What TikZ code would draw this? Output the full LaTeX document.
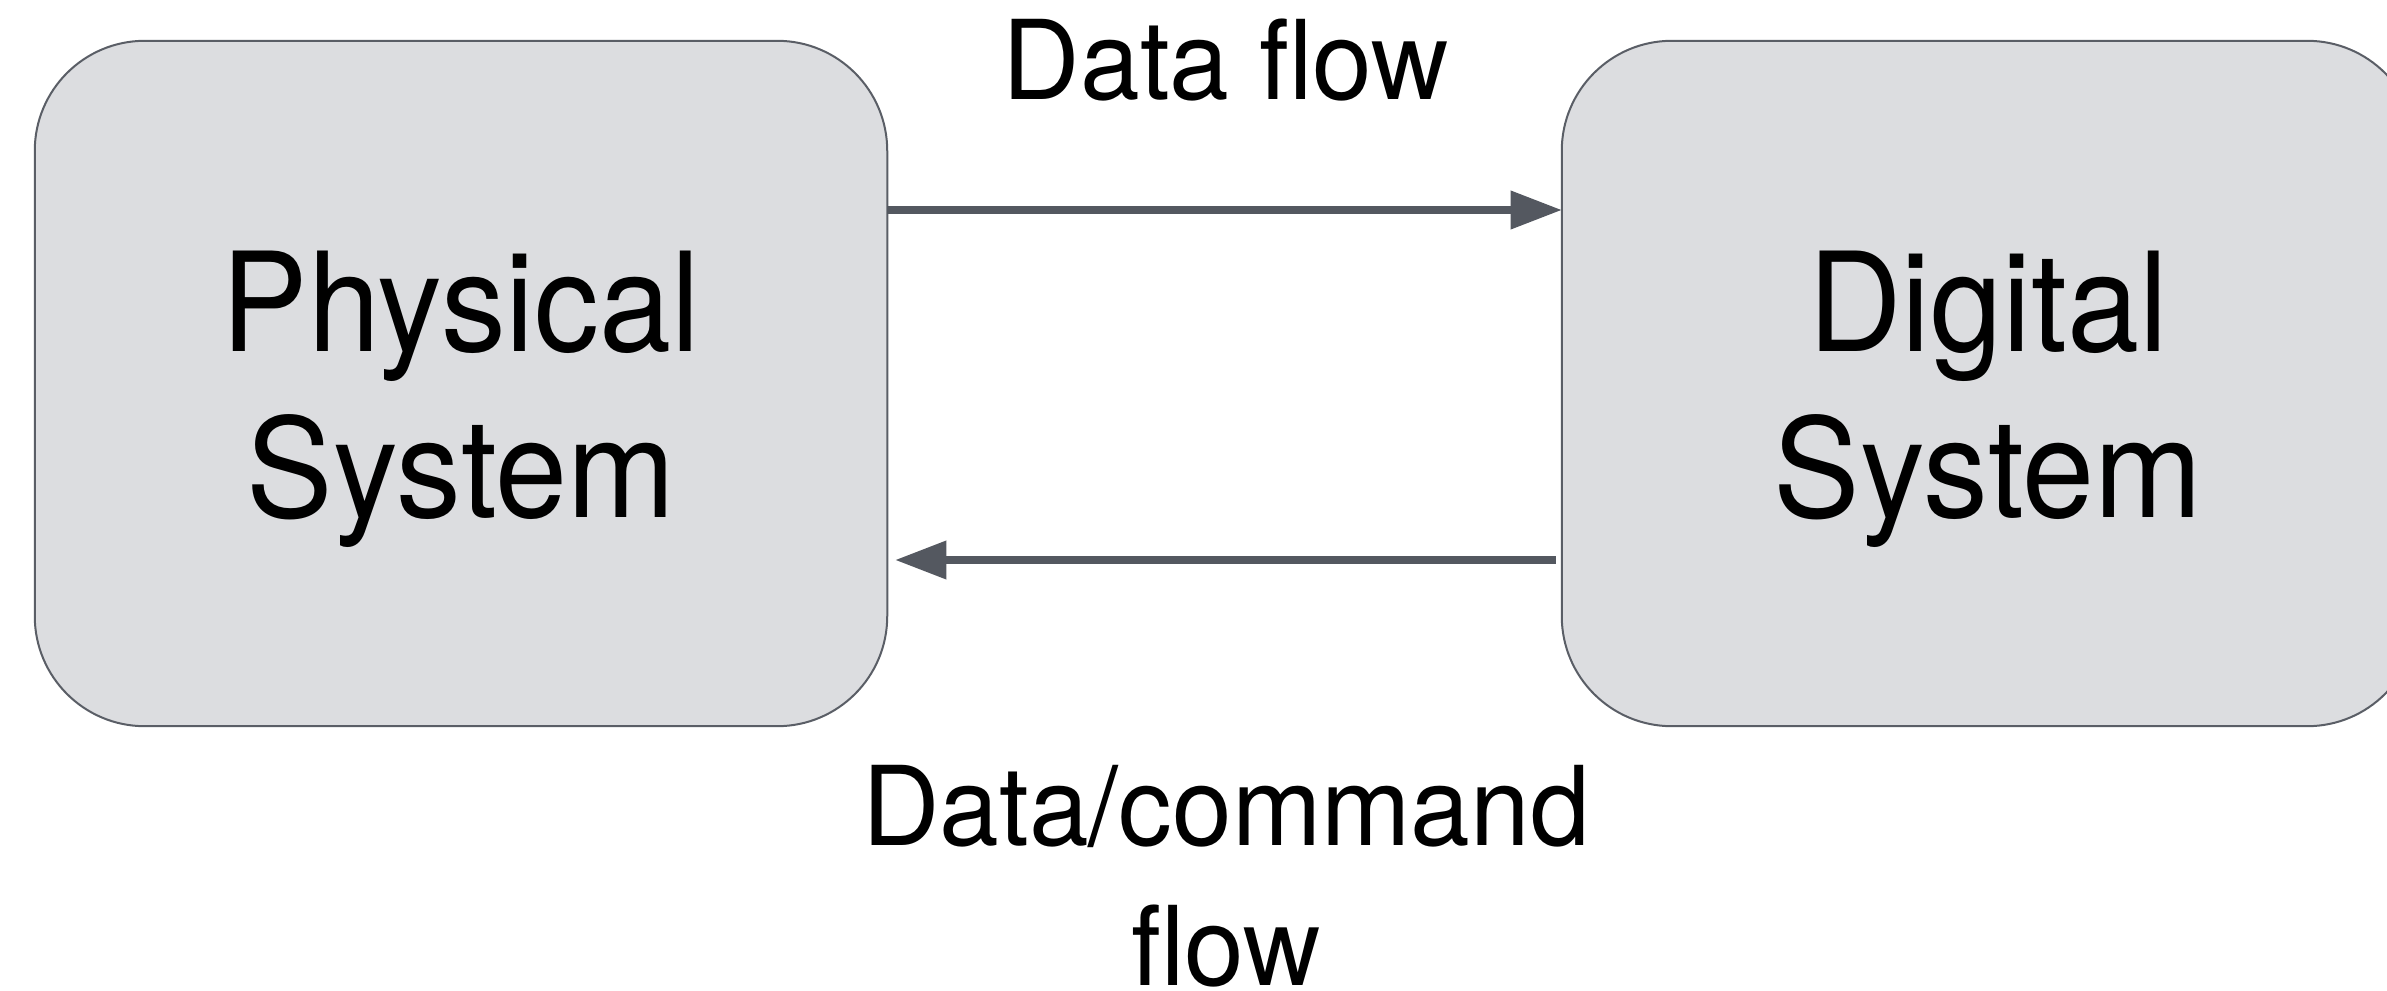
\documentclass[tikz,border=0pt]{standalone}
\usepackage{fontspec}
\setmainfont{TeX Gyre Heros}[FakeStretch=0.94]
\newfontfamily\flowfam{TeX Gyre Heros}[FakeStretch=0.975]
\usetikzlibrary{arrows.meta}

\definecolor{boxfill}{HTML}{DCDDE0}
\definecolor{boxline}{HTML}{5A5E66}
\definecolor{arrowcol}{HTML}{545860}

\newcommand{\boxfont}{\fontsize{39.2}{47.2}\selectfont}
\newcommand{\flowfont}{\flowfam\fontsize{31.3}{39.8}\selectfont}

\tikzset{
  sysbox/.style={draw=boxline, fill=boxfill, line width=0.02cm,
    rounded corners=1.1cm, minimum height=6.85cm, inner sep=0pt, outer sep=0pt},
  lbl/.style={anchor=base, inner sep=0pt, outer sep=0pt, text=black},
  flowarrow/.style={draw=arrowcol, line width=0.07cm,
    -{Triangle[length=0.51cm, width=0.37cm]}}
}

\begin{document}
\begin{tikzpicture}[x=0.01cm, y=-0.01cm]
  \useasboundingbox (0,0) rectangle (2387,991);
  \clip (0,0) rectangle (2387,991);

  % the two systems
  \node[sysbox, minimum width=8.52cm] (phys) at (461,383.5) {};
  \node[sysbox, minimum width=8.55cm] (dig) at (1989.5,383.5) {};

  \node[lbl, font=\boxfont] (physlbl) at (461,517)
    {\begin{tabular}[b]{@{}c@{}}Physical\\System\end{tabular}};
  \node[lbl, font=\boxfont] (diglbl) at (1988,517)
    {\begin{tabular}[b]{@{}c@{}}Digital\\System\end{tabular}};

  % flow levels
  \coordinate (uplevel) at (0,210);
  \coordinate (downlevel) at (0,560);

  % data flow to the digital side, commands back
  \draw[flowarrow] (phys.east |- uplevel) -- (dig.west |- uplevel);
  \draw[flowarrow, shorten <=0.06cm, shorten >=0.08cm]
    (dig.west |- downlevel) -- (phys.east |- downlevel);

  \node[lbl, font=\flowfont] (dataflow) at (1226,100) {Data flow};
  % "flow" has no descenders, so the south anchor sits on its baseline
  \node[inner sep=0pt, outer sep=0pt, align=center, anchor=south,
        font=\flowfont] (cmdflow) at (1226,987) {Data/command\\flow};
\end{tikzpicture}
\end{document}
